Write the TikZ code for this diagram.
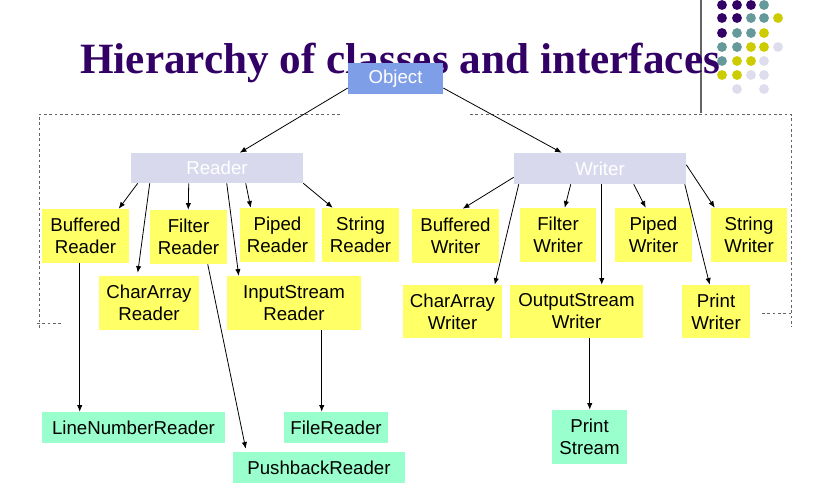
\documentclass[tikz,border=0pt]{standalone}
\usepackage{fontspec}
\setmainfont{Liberation Sans}
\newfontfamily\titlefont{Liberation Serif}
\usetikzlibrary{arrows.meta,calc}

\definecolor{titlepurple}{RGB}{51,0,102}
\definecolor{dotteal}{RGB}{102,153,153}
\definecolor{dotyellow}{RGB}{204,204,0}
\definecolor{dotlav}{RGB}{221,221,238}
\definecolor{objblue}{RGB}{127,158,232}
\definecolor{abslav}{RGB}{217,217,238}
\definecolor{classyel}{RGB}{255,255,102}
\definecolor{leafgreen}{RGB}{153,255,204}
\definecolor{frame}{RGB}{100,100,100}

\tikzset{
  cls/.style={inner sep=0pt, align=center, font=\fontsize{14pt}{16.5pt}\selectfont},
  rootbox/.style={cls, fill=objblue, text=white},
  absbox/.style={cls, fill=abslav, text=white},
  ybox/.style={cls, fill=classyel, text=black},
  gbox/.style={cls, fill=leafgreen, text=black},
  inh/.style={-{Latex[length=5pt,width=4pt]}, line width=0.6pt, black},
  border/.style={frame, line width=0.6pt, dash pattern=on 2pt off 2pt},
  dot/.style={radius=3.7pt}
}

\begin{document}
\begin{tikzpicture}[x=0.75pt,y=-0.75pt]
\useasboundingbox (0,0) rectangle (827,497);
\fill[white] (0,0) rectangle (827,497);

% corner dot pattern
\foreach \c/\x/\y in {
  titlepurple/722/5, titlepurple/737/5, titlepurple/751/5, dotteal/764/5,
  titlepurple/722/18, titlepurple/737/18, dotteal/751/18, dotteal/764/18, dotyellow/778/18,
  titlepurple/722/33, dotteal/737/33, dotteal/751/33, dotyellow/764/33,
  dotteal/722/47, dotteal/737/47, dotyellow/751/47, dotyellow/764/47, dotlav/778/47,
  dotteal/722/61, dotyellow/737/61, dotyellow/751/61, dotlav/764/61,
  dotyellow/722/75, dotyellow/737/75, dotlav/751/75, dotlav/764/75,
  dotlav/737/89, dotlav/764/89}
  \fill[\c] (\x,\y) circle[dot];

% slide rule and dashed frames
\draw[frame, line width=0.8pt] (701,0) -- (701,113);
\draw[border] (340,114) -- (39,114) -- (39,328);
\draw[border] (37,323) -- (63,323);
\draw[border] (470,114) -- (791,114) -- (791,327);
\draw[border] (762,313) -- (791,313);

% title
\node[anchor=base west, inner sep=0pt, text=titlepurple,
      font=\titlefont\bfseries\fontsize{32.4pt}{36pt}\selectfont] (title) at (80,73)
  {Hierarchy of classes and interfaces};

% root and abstract bases
\node[rootbox, minimum width=71.25pt, minimum height=23.25pt] (O) at (395.5,78.5) {Object};
\node[absbox, minimum width=129pt, minimum height=22.5pt] (R) at (217,168) {Reader};
\node[absbox, minimum width=129pt, minimum height=23.25pt] (W) at (600,168.5) {Writer};

% reader classes
\node[ybox, minimum width=65.25pt, minimum height=40.5pt] (BR) at (85.5,236) {Buffered\\Reader};
\node[ybox, minimum width=57.75pt, minimum height=40.5pt] (FR) at (188.5,237) {Filter\\Reader};
\node[ybox, minimum width=56.25pt, minimum height=40.5pt] (PR) at (277.5,235) {Piped\\Reader};
\node[ybox, minimum width=57.75pt, minimum height=40.5pt] (SR) at (360.5,235) {String\\Reader};
\node[ybox, minimum width=75pt, minimum height=40.5pt] (CAR) at (149,303) {CharArray\\Reader};
\node[ybox, minimum width=100.5pt, minimum height=40.5pt] (ISR) at (294,303) {InputStream\\Reader};

% writer classes
\node[ybox, minimum width=65.25pt, minimum height=40.5pt] (BW) at (455.5,236) {Buffered\\Writer};
\node[ybox, minimum width=57pt, minimum height=40.5pt] (FW) at (558,235) {Filter\\Writer};
\node[ybox, minimum width=57.75pt, minimum height=40.5pt] (PW) at (653.5,235) {Piped\\Writer};
\node[ybox, minimum width=57pt, minimum height=40.5pt] (SW) at (749,235) {String\\Writer};
\node[ybox, minimum width=74.25pt, minimum height=39.75pt] (CAW) at (452.5,311.5) {CharArray\\Writer};
\node[ybox, minimum width=99.75pt, minimum height=39.75pt] (OSW) at (576.5,311.5) {OutputStream\\Writer};
\node[ybox, minimum width=51pt, minimum height=39.75pt] (PrW) at (716,311.5) {Print\\Writer};

% further subclasses
\node[gbox, minimum width=137.25pt, minimum height=23.25pt] (LNR) at (133.5,427.5) {LineNumberReader};
\node[gbox, minimum width=78pt, minimum height=23.25pt] (FiR) at (336,427.5) {FileReader};
\node[gbox, minimum width=129pt, minimum height=23.25pt] (PBR) at (319,467.5) {PushbackReader};
\node[gbox, minimum width=56.25pt, minimum height=40.5pt] (PS) at (589.5,437) {Print\\Stream};

% inheritance arrows
\draw[inh] ($(O.west)+(0,9.5)$) -- ($(R.north west)+(109,0)$);
\draw[inh] ($(O.east)+(0,9.5)$) -- ($(W.north west)+(48,0)$);

\draw[inh] ($(R.south west)+(7,0)$) -- ($(BR.north west)+(77,0)$);
\draw[inh] ($(R.south west)+(19,0)$) -- ($(CAR.north west)+(39,-3)$);
\draw[inh] ($(R.south west)+(58,0)$) -- ($(FR.north west)+(38.5,0)$);
\draw[inh] ($(R.south west)+(96,0)$) -- ($(ISR.north west)+(12,0)$);
\draw[inh] ($(R.south west)+(115,0)$) -- ($(PR.north west)+(11,0)$);
\draw[inh] (R.south east) -- ($(SR.north west)+(11,0)$);

\draw[inh] ($(W.south west)+(0,-7)$) -- ($(BW.north west)+(51,0)$);
\draw[inh] ($(W.south west)+(5,0)$) -- ($(CAW.north west)+(92,0)$);
\draw[inh] ($(W.south west)+(57,0)$) -- ($(FW.north west)+(45,0)$);
\draw[inh] ($(W.south west)+(88,0)$) -- ($(OSW.north west)+(92,0)$);
\draw[inh] ($(W.south west)+(120,0)$) -- ($(PW.north west)+(31,0)$);
\draw[inh] ($(W.south west)+(171,0)$) -- ($(PrW.north west)+(28,0)$);
\draw[inh] ($(W.north east)+(0,12)$) -- ($(SW.north west)+(4,0)$);

\draw[inh] ($(BR.south west)+(38,0)$) -- ($(LNR.north west)+(38,0)$);
\draw[inh] ($(FR.south west)+(58,0)$) -- ($(PBR.north west)+(13,-3)$);
\draw[inh] ($(ISR.south west)+(95,0)$) -- ($(FiR.north west)+(38,0)$);
\draw[inh] ($(OSW.south west)+(80,0)$) -- ($(PS.north west)+(38,0)$);
\end{tikzpicture}
\end{document}
